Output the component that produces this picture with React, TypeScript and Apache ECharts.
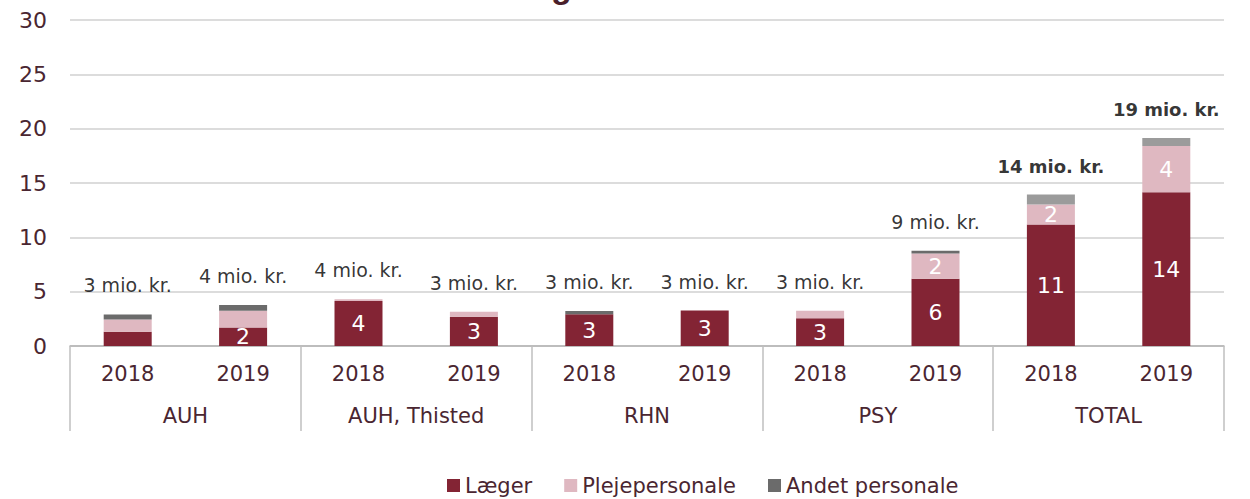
import React, { useEffect, useRef } from "react";
import * as echarts from "echarts";

const years = ["2018", "2019", "2018", "2019", "2018", "2019", "2018", "2019", "2018", "2019"];
const groups = ["AUH", "AUH, Thisted", "RHN", "PSY", "TOTAL"];
const groupOfBar = ["AUH", "AUH", "AUH, Thisted", "AUH, Thisted", "RHN", "RHN", "PSY", "PSY", "TOTAL", "TOTAL"];
const laeger = [1.3, 1.7, 4.15, 2.7, 2.92, 3.26, 2.55, 6.2, 11.17, 14.15];
const pleje = [1.15, 1.55, 0.15, 0.45, 0, 0, 0.7, 2.32, 1.85, 4.25];
const andet = [0.45, 0.53, 0, 0, 0.3, 0, 0, 0.25, 0.92, 0.74];
const yTicks = { min: 0, max: 30, interval: 5 };

const FONT = "DejaVu Sans";
const TXT = "#4a2631";
const C_LAEGER = "#832434";
const C_PLEJE = "#dfb8c1";
const C_ANDET = "#6b6b6b";
const C_ANDET_TOTAL = "#9b9b9b";

export default function App() {
  const ref = useRef<HTMLDivElement>(null);
  useEffect(() => {
    if (!ref.current) return;
    const chart = echarts.init(ref.current, undefined, { renderer: "svg" });
    const totals = laeger.map((v, i) => v + pleje[i] + andet[i]);
    const segLabel = {
      show: true,
      position: "inside",
      color: "#ffffff",
      fontSize: 22,
      fontFamily: FONT,
      formatter: (p: any) => (p.value >= 1.6 ? String(Math.round(p.value)) : ""),
    };
    chart.setOption({
      animation: false,
      textStyle: { fontFamily: FONT },
      grid: { left: 70, right: 26, top: 20, bottom: 153, containLabel: false },
      legend: {
        data: ["Læger", "Plejepersonale", "Andet personale"],
        left: 442,
        top: 470,
        icon: "rect",
        itemWidth: 13,
        itemHeight: 13,
        itemGap: 32,
        textStyle: { fontSize: 21, color: TXT, fontFamily: FONT },
      },
      xAxis: [
        {
          type: "category",
          data: years,
          position: "bottom",
          axisLine: { show: true, lineStyle: { color: "#b3b3b3", width: 1.5 } },
          axisTick: { show: false },
          axisLabel: { interval: 0, margin: 17, fontSize: 21, color: TXT, fontFamily: FONT },
        },
        {
          type: "category",
          data: groups,
          position: "bottom",
          offset: 0,
          axisLine: { show: false },
          axisTick: { show: true, interval: 0, length: 85, lineStyle: { color: "#bfbfbf", width: 1.5 } },
          axisLabel: { interval: 0, margin: 59, fontSize: 21, color: TXT, fontFamily: FONT },
        },
      ],
      yAxis: {
        type: "value",
        min: yTicks.min,
        max: yTicks.max,
        interval: yTicks.interval,
        axisLine: { show: false },
        axisTick: { show: false },
        axisLabel: { margin: 23, fontSize: 22, color: TXT, fontFamily: FONT },
        splitLine: { lineStyle: { color: "#dcdcdc", width: 2 } },
      },
      graphic: [
        {
          type: "text",
          left: 551,
          top: -31,
          silent: true,
          style: { text: "g", fontSize: 34, fontWeight: "bold", fontFamily: "Liberation Sans", fill: "#4a1f2b" },
        },
      ],
      series: [
        {
          name: "Læger",
          type: "bar",
          stack: "s",
          barWidth: 48,
          data: laeger,
          itemStyle: { color: C_LAEGER },
          label: segLabel,
        },
        {
          name: "Plejepersonale",
          type: "bar",
          stack: "s",
          barWidth: 48,
          data: pleje,
          itemStyle: { color: C_PLEJE },
          label: segLabel,
        },
        {
          name: "Andet personale",
          type: "bar",
          stack: "s",
          barWidth: 48,
          data: andet.map((v, i) => ({
            value: v,
            itemStyle: { color: groupOfBar[i] === "TOTAL" ? C_ANDET_TOTAL : C_ANDET },
          })),
          itemStyle: { color: C_ANDET },
        },
        {
          name: "Total",
          type: "scatter",
          symbolSize: 1,
          silent: true,
          itemStyle: { color: "rgba(0,0,0,0)" },
          data: totals.map((v, i) => ({
            value: v,
            label: groupOfBar[i] === "TOTAL" ? { fontWeight: "bold", fontSize: 18 } : {},
          })),
          label: {
            show: true,
            position: "top",
            distance: 19,
            color: "#000000",
            fontSize: 19,
            fontFamily: FONT,
            formatter: (p: any) => Math.round(p.value) + " mio. kr.",
          },
        },
      ],
    });
    return () => chart.dispose();
  }, []);
  return (
    <div
      ref={ref}
      style={{ position: "absolute", left: 0, top: 0, width: 1250, height: 499, background: "#ffffff" }}
    />
  );
}
